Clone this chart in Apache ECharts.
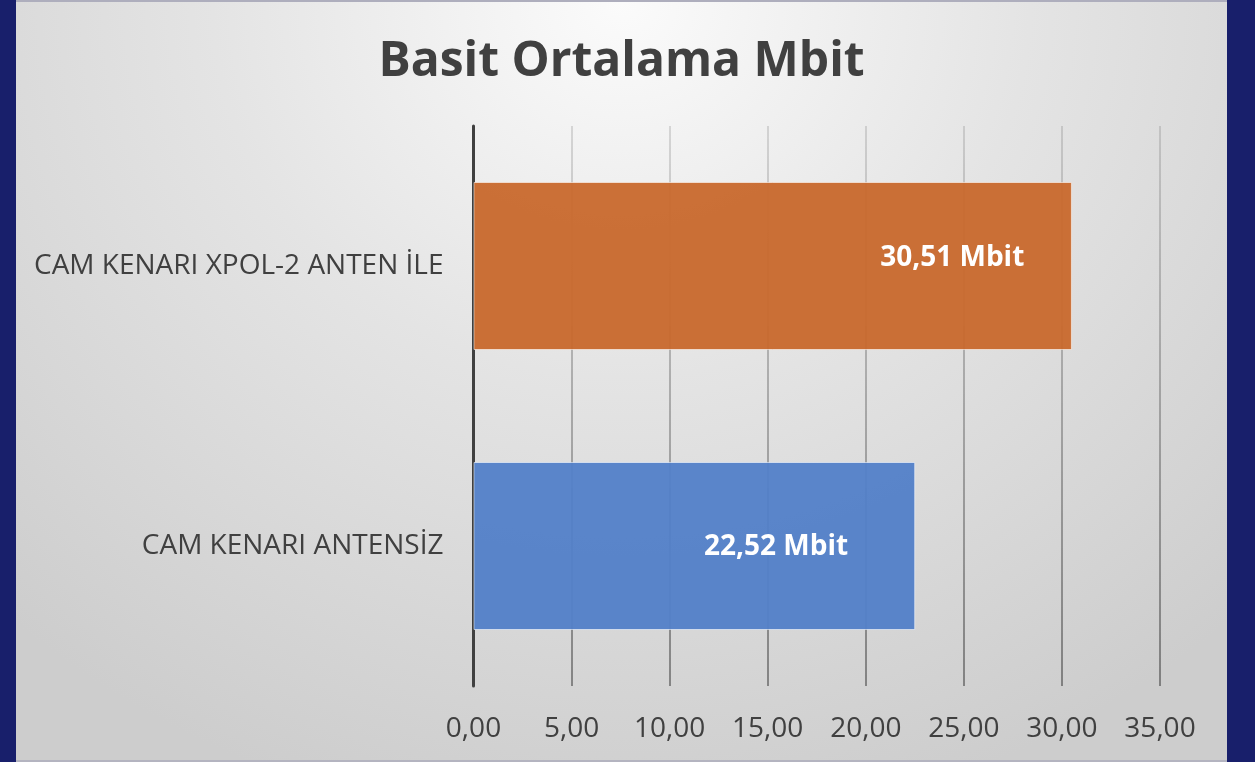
<!DOCTYPE html>
<html>
<head>
<meta charset="utf-8">
<script src="https://cdn.jsdelivr.net/npm/echarts@6/dist/echarts.min.js"></script>
<style>
  html, body { margin: 0; padding: 0; background: #181f6b; }
  #main {
    position: absolute; left: 16px; top: 0; width: 1211px; height: 762px;
    box-sizing: border-box;
    border-top: 2px solid #aeaebd;
    border-bottom: 2px solid #b4b4c0;
    background: radial-gradient(ellipse 75% 110% at 50% 0%, #fbfbfb 0%, #e4e4e4 45%, #cdcdcd 100%);
  }
</style>
</head>
<body>
<div id="main"></div>
<script>
const categories = ["CAM KENARI XPOL-2 ANTEN İLE", "CAM KENARI ANTENSİZ"];
const values = [30.51, 22.52];
const unit = "Mbit";
const tickMin = 0, tickMax = 35, tickStep = 5;

// renk ve etiket konumu (stil)
const barColors = ["rgba(200,104,44,0.95)", "rgba(82,127,200,0.95)"];
const labelPos = [["80%", "45%"], ["68.5%", "50.8%"]];

const fmt = v => v.toFixed(2).replace(".", ",");

const chart = echarts.init(document.getElementById("main"));

const option = {
  backgroundColor: "transparent",
  title: {
    text: "Basit Ortalama Mbit",
    left: "center",
    top: 31,
    textStyle: {
      fontFamily: "Open Sans",
      fontWeight: "bold",
      fontSize: 48,
      color: "#404040"
    }
  },
  grid: {
    left: 457.5,
    right: 67,
    top: 124,
    bottom: 74,
    containLabel: false
  },
  xAxis: {
    type: "value",
    min: tickMin,
    max: tickMax,
    interval: tickStep,
    axisLine: { show: false },
    axisTick: { show: false },
    axisLabel: {
      margin: 29,
      color: "#404040",
      fontFamily: "Open Sans",
      fontSize: 28,
      formatter: v => fmt(v)
    },
    splitLine: {
      lineStyle: {
        width: 2,
        color: new echarts.graphic.LinearGradient(0, 124, 0, 686, [
          { offset: 0, color: "rgba(0,0,0,0.12)" },
          { offset: 1, color: "rgba(0,0,0,0.38)" }
        ], true)
      }
    }
  },
  yAxis: {
    type: "category",
    inverse: true,
    data: categories,
    axisLine: { lineStyle: { color: "#404040", width: 3 } },
    axisTick: { show: false },
    axisLabel: {
      margin: 30,
      color: "#404040",
      fontFamily: "Open Sans",
      fontSize: 28
    }
  },
  series: [{
    type: "bar",
    barWidth: "60%",
    data: values.map((v, i) => ({
      value: v,
      itemStyle: {
        color: barColors[i],
        borderColor: "rgba(255,255,255,0.55)",
        borderWidth: 1
      },
      label: {
        show: true,
        position: labelPos[i],
        align: "center",
        verticalAlign: "middle",
        color: "#ffffff",
        fontFamily: "Open Sans",
        fontWeight: "bold",
        fontSize: 28,
        formatter: p => fmt(p.value) + " " + unit
      }
    }))
  }]
};

chart.setOption(option);
</script>
</body>
</html>
